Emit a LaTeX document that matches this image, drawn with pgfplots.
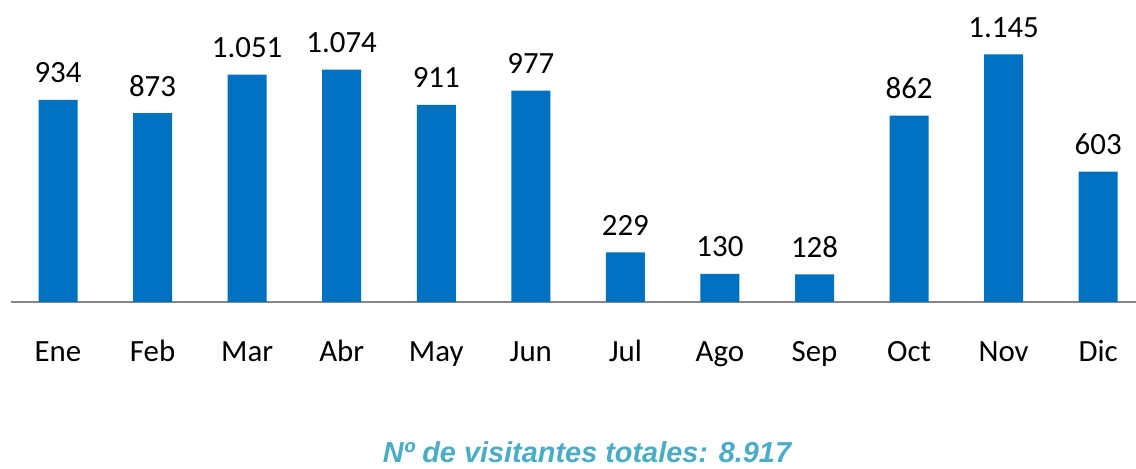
\documentclass[border=0pt]{standalone}
\usepackage{pgfplots}
\pgfplotsset{compat=1.18}
\usepackage{fontspec}
\setmainfont{Carlito}
\newfontfamily\titlefont{Liberation Sans}
\definecolor{barblue}{HTML}{0070C0}
\definecolor{titleblue}{HTML}{4BACC6}
\definecolor{axisgray}{HTML}{868686}
\begin{document}
\begin{tikzpicture}[x=1bp,y=1bp]
\path[use as bounding box] (0,0) rectangle (1136,469);
\begin{axis}[
  at={(58bp,167bp)}, anchor=origin,
  scale only axis, width=1125.3bp, height=300bp,
  xmin=-0.5, xmax=11.4, ymin=0, ymax=1387,
  axis x line*=bottom, axis y line=none,
  axis line style={axisgray, line width=1.8pt},
  x axis line style={-},
  xtick=data, xticklabels={Ene,Feb,Mar,Abr,May,Jun,Jul,Ago,Sep,Oct,Nov,Dic},
  major tick length=0pt,
  xticklabel style={font=\fontsize{31}{36}\selectfont, anchor=base, inner sep=0pt, yshift=-60bp},
  ybar, bar width=39bp,
  /pgf/number format/assume math mode=true,
  nodes near coords={\pgfmathprintnumber[use comma,1000 sep={.},assume math mode=true]{\pgfplotspointmeta}},
  nodes near coords style={font=\fontsize{31}{36}\selectfont, anchor=base, inner sep=0pt, yshift=17bp},
  point meta=explicit,
  clip=false,
]
\addplot[fill=barblue, draw=none] table[x=x, y=y, meta=y] {
x y
0 934
1 873
2 1051
3 1074
4 911
5 977
6 229
7 130
8 128
9 862
10 1145
11 603
};
\end{axis}
\node[anchor=base, inner sep=0pt, text=titleblue, font=\titlefont\bfseries\itshape\fontsize{29}{34}\selectfont] at (587,6) {Nº de visitantes totales: 8.917};
\end{tikzpicture}
\end{document}
